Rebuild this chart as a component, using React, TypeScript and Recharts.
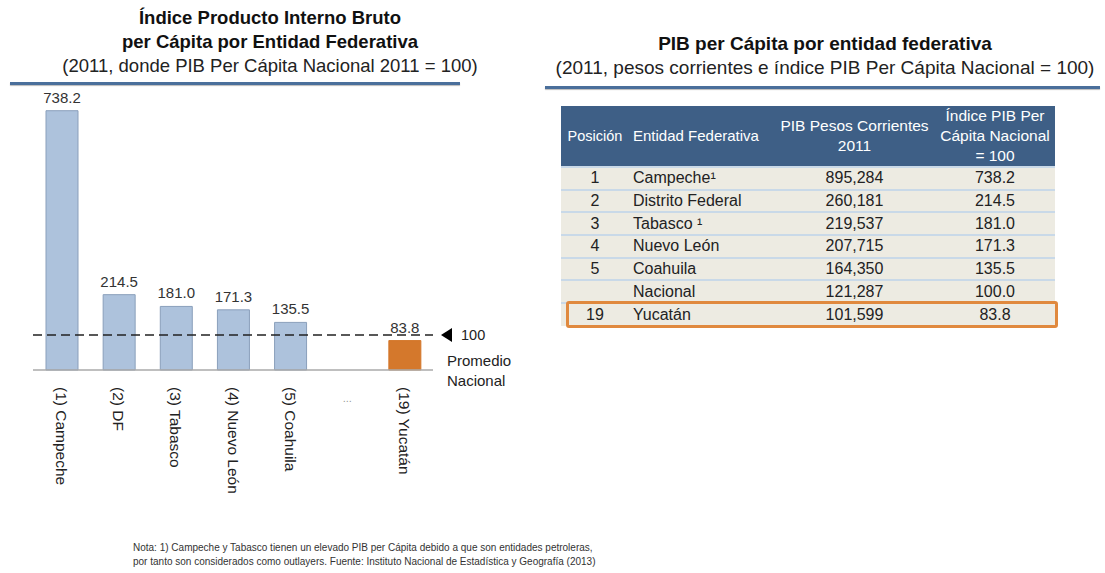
import { BarChart, Bar, XAxis, YAxis, Cell, LabelList, ReferenceLine } from 'recharts'

const categories = ['(1) Campeche', '(2) DF', '(3) Tabasco', '(4) Nuevo León', '(5) Coahuila', '...', '(19) Yucatán']
const indexValues = [738.2, 214.5, 181.0, 171.3, 135.5, null, 83.8]
const nationalAverage = 100

const tablePositions = ['1', '2', '3', '4', '5', '', '19']
const tableEntities = ['Campeche¹', 'Distrito Federal', 'Tabasco ¹', 'Nuevo León', 'Coahuila', 'Nacional', 'Yucatán']
const tablePib = ['895,284', '260,181', '219,537', '207,715', '164,350', '121,287', '101,599']
const tableIndex = ['738.2', '214.5', '181.0', '171.3', '135.5', '100.0', '83.8']

const FONT = '"Liberation Sans", Arial, sans-serif'
const BLUE = '#adc2dc'
const ORANGE = '#d4782c'

const chartData = categories.map((name, i) => ({ name, value: indexValues[i] }))

function RotatedTick({ x, y, payload }: any) {
  if (payload.value === '...') {
    return (
      <text x={x} y={y + 24} textAnchor="middle" fontSize={11} fill="#999" fontFamily={FONT}>
        ...
      </text>
    )
  }
  return (
    <text
      x={x}
      y={y + 9}
      transform={`rotate(90, ${x}, ${y + 9})`}
      textAnchor="start"
      dominantBaseline="central"
      fontSize={15.5}
      fill="#222"
      fontFamily={FONT}
    >
      {payload.value}
    </text>
  )
}

function AverageLabel(props: any) {
  const vb = props.viewBox || {}
  const x = vb.x + vb.width
  const y = vb.y
  return (
    <g fontFamily={FONT}>
      <polygon points={`${x + 8},${y} ${x + 19},${y - 7} ${x + 19},${y + 7}`} fill="#000" />
      <text x={x + 28} y={y} dominantBaseline="central" fontSize={14.5} fill="#222">
        {nationalAverage}
      </text>
      <text x={x + 14} y={y + 26} dominantBaseline="central" fontSize={15} fill="#222">
        Promedio
      </text>
      <text x={x + 14} y={y + 46} dominantBaseline="central" fontSize={15} fill="#222">
        Nacional
      </text>
    </g>
  )
}

const th: React.CSSProperties = {
  color: '#fff',
  fontWeight: 'normal',
  fontSize: 15.5,
  lineHeight: '20px',
  padding: 0,
  textAlign: 'center',
}

const td: React.CSSProperties = { textAlign: 'center', fontSize: 16, color: '#222', padding: 0, lineHeight: '18px' }

export default function App() {
  return (
    <div style={{ position: 'absolute', left: 0, top: 0, width: 1105, height: 573, background: '#fff', fontFamily: FONT }}>
      {/* left title */}
      <div style={{ position: 'absolute', left: 0, top: 6, width: 540, textAlign: 'center', color: '#111' }}>
        <div style={{ fontWeight: 'bold', fontSize: 18.5, lineHeight: '24px' }}>Índice Producto Interno Bruto</div>
        <div style={{ fontWeight: 'bold', fontSize: 18.5, lineHeight: '24px' }}>per Cápita por Entidad Federativa</div>
        <div style={{ fontSize: 18.5, lineHeight: '24px', color: '#222' }}>(2011, donde PIB Per Cápita Nacional 2011 = 100)</div>
      </div>
      <div style={{ position: 'absolute', left: 10, top: 82, width: 450, height: 3, background: '#4a6f9b', boxShadow: '0 1px 1px #bbb' }} />

      {/* right title */}
      <div style={{ position: 'absolute', left: 545, top: 32, width: 560, textAlign: 'center', color: '#111' }}>
        <div style={{ fontWeight: 'bold', fontSize: 19, lineHeight: '24px' }}>PIB per Cápita por entidad federativa</div>
        <div style={{ fontSize: 19, lineHeight: '24px', color: '#222' }}>(2011, pesos corrientes e índice PIB Per Cápita Nacional = 100)</div>
      </div>
      <div style={{ position: 'absolute', left: 545, top: 86, width: 555, height: 3, background: '#4a6f9b', boxShadow: '0 1px 1px #bbb' }} />

      {/* bar chart */}
      <div style={{ position: 'absolute', left: 0, top: 0 }}>
        <BarChart
          width={540}
          height={520}
          data={chartData}
          margin={{ top: 89, right: 107, left: 33, bottom: 0 }}
          barCategoryGap={12}
          style={{ fontFamily: FONT }}
        >
          <XAxis
            dataKey="name"
            interval={0}
            height={150}
            tickLine={false}
            axisLine={{ stroke: '#aaa', strokeWidth: 1.5 }}
            tick={<RotatedTick />}
          />
          <YAxis hide domain={[0, 800]} />
          <Bar dataKey="value" barSize={32} stroke="#8a9fbb" strokeWidth={1} isAnimationActive={false}>
            {chartData.map((d, i) => (
              <Cell key={i} fill={i === chartData.length - 1 ? ORANGE : BLUE} stroke={i === chartData.length - 1 ? ORANGE : '#8a9fbb'} />
            ))}
            <LabelList
              dataKey="value"
              position="top"
              offset={8}
              formatter={(v: any) => (v == null ? '' : Number(v).toFixed(1))}
              style={{ fontSize: 15, fill: '#333', fontFamily: FONT }}
            />
          </Bar>
          <ReferenceLine
            y={nationalAverage}
            stroke="#222"
            strokeWidth={1.5}
            strokeDasharray="9 5"
            label={<AverageLabel />}
          />
        </BarChart>
      </div>

      {/* table */}
      <div style={{ position: 'absolute', left: 561, top: 106, width: 494 }}>
        <table style={{ borderCollapse: 'collapse', width: 494, fontFamily: FONT, tableLayout: 'fixed' }}>
          <colgroup>
            <col style={{ width: 68 }} />
            <col style={{ width: 145 }} />
            <col style={{ width: 161 }} />
            <col style={{ width: 120 }} />
          </colgroup>
          <thead>
            <tr style={{ background: '#3e5f86', height: 60 }}>
              <th style={{ ...th, fontSize: 14.5 }}>Posición</th>
              <th style={{ ...th, textAlign: 'left', paddingLeft: 4, fontSize: 15 }}>Entidad Federativa</th>
              <th style={th}>PIB Pesos Corrientes<br />2011</th>
              <th style={th}>Índice PIB Per<br />Cápita Nacional<br />= 100</th>
            </tr>
          </thead>
          <tbody>
            {tableEntities.map((ent, i) => (
              <tr key={i} style={{ background: '#edebe2', height: 22.7, borderTop: '2px solid #c9d9e8' }}>
                <td style={td}>{tablePositions[i]}</td>
                <td style={{ ...td, textAlign: 'left', paddingLeft: 4 }}>{ent}</td>
                <td style={td}>{tablePib[i]}</td>
                <td style={td}>{tableIndex[i]}</td>
              </tr>
            ))}
          </tbody>
        </table>
      </div>
      <div style={{ position: 'absolute', left: 566, top: 301, width: 486, height: 21, border: '3px solid #e0893e', borderRadius: 3 }} />

      {/* footnote */}
      <div style={{ position: 'absolute', left: 133, top: 541, fontSize: 10, lineHeight: '14px', color: '#333' }}>
        <div>Nota: 1) Campeche y Tabasco tienen un elevado PIB per Cápita debido a que son entidades petroleras,</div>
        <div>por tanto son considerados como outlayers. Fuente: Instituto Nacional de Estadística y Geografía (2013)</div>
      </div>
    </div>
  )
}
